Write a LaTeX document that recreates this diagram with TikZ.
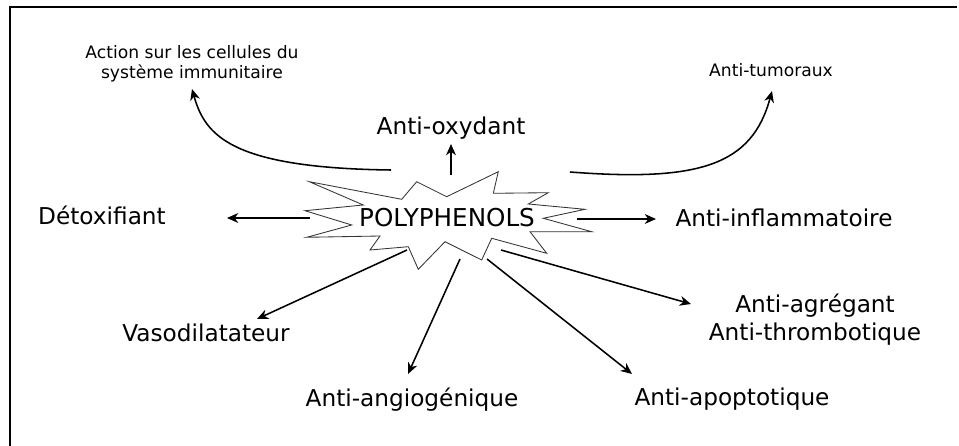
\documentclass[tikz,border=0pt]{standalone}
\usepackage{fontspec}
\setmainfont{DejaVu Sans}
\usetikzlibrary{arrows.meta}

\tikzset{
	big/.style={font=\fontsize{16.5}{20}\selectfont, inner sep=0pt},
	small/.style={font=\fontsize{12.2}{14}\selectfont, inner sep=0pt, align=center},
	effect/.style={->, >={Stealth[length=8pt,width=7pt,inset=2.5pt]}, line width=1.1pt},
	burst/.style={draw=black!80, line width=0.6pt, fill=white}
}

\begin{document}
\begin{tikzpicture}[x=0.025cm, y=-0.025cm]
			\useasboundingbox (0,0) rectangle (959,446);
			\draw[line width=1.2pt] (10,446) -- (10,7) -- (957,7);

			% the star
			\draw[burst] (401.7,199.3) -- (416.7,181.7) -- (446.7,196.7) -- (498.3,171.7)
				-- (493.3,193.3) -- (548.3,192.7) -- (528.3,204) -- (585,209.3)
				-- (543.3,218.3) -- (591.7,231.7) -- (530,231.7) -- (546.7,253.3)
				-- (491.7,238.3) -- (481.7,260) -- (445,241.7) -- (418.3,269.3)
				-- (408.3,246.7) -- (370,250) -- (380,236) -- (306.7,237.3)
				-- (351.7,225) -- (305,210.7) -- (363.3,205) -- (309.3,181.7) -- cycle;
			\node[big, font=\fontsize{17.5}{20}\selectfont] (poly) at (447,218) {POLYPHENOLS};

			\node[small] (immun) at (192,64) {Action sur les cellules du\\système immunitaire};
			\node[small] (tumor) at (771,70) {Anti-tumoraux};
			\node[big] (oxy) at (451,128) {Anti-oxydant};
			\node[big] (detox) at (102,215) {Détoxifiant};
			\node[big] (inflam) at (784,218) {Anti-inflammatoire};
			\node[big, align=center] (aggreg) at (815,320) {Anti-agrégant\\Anti-thrombotique};
			\node[big] (vaso) at (206,333) {Vasodilatateur};
			\node[big] (angio) at (412,400) {Anti-angiogénique};
			\node[big] (apopt) at (732,399) {Anti-apoptotique};

			\coordinate (immunA) at (391,170);
			\coordinate (immunB) at (192,89);
			\coordinate (tumorA) at (570,172);
			\coordinate (tumorB) at (772,91);
			\coordinate (oxyA) at (451,175);
			\coordinate (oxyB) at (451,144);
			\coordinate (detoxA) at (310,218);
			\coordinate (detoxB) at (227,218);
			\coordinate (inflamA) at (577,219);
			\coordinate (inflamB) at (656,219);
			\coordinate (aggregA) at (501,250);
			\coordinate (aggregB) at (691,304);
			\coordinate (vasoA) at (407,250);
			\coordinate (vasoB) at (257,319);
			\coordinate (angioA) at (460,259);
			\coordinate (angioB) at (408,374);
			\coordinate (apoptA) at (487,259);
			\coordinate (apoptB) at (632,374);

			\draw[effect] (immunA) .. controls (230,168) and (205,135) .. (immunB);
			\draw[effect] (tumorA) .. controls (700,182) and (752,165) .. (tumorB);
			\draw[effect] (oxyA) to (oxyB);
			\draw[effect] (detoxA) to (detoxB);
			\draw[effect] (inflamA) to (inflamB);
			\draw[effect] (aggregA) to (aggregB);
			\draw[effect] (vasoA) to (vasoB);
			\draw[effect] (angioA) to (angioB);
			\draw[effect] (apoptA) to (apoptB);
		\end{tikzpicture}
\end{document}
